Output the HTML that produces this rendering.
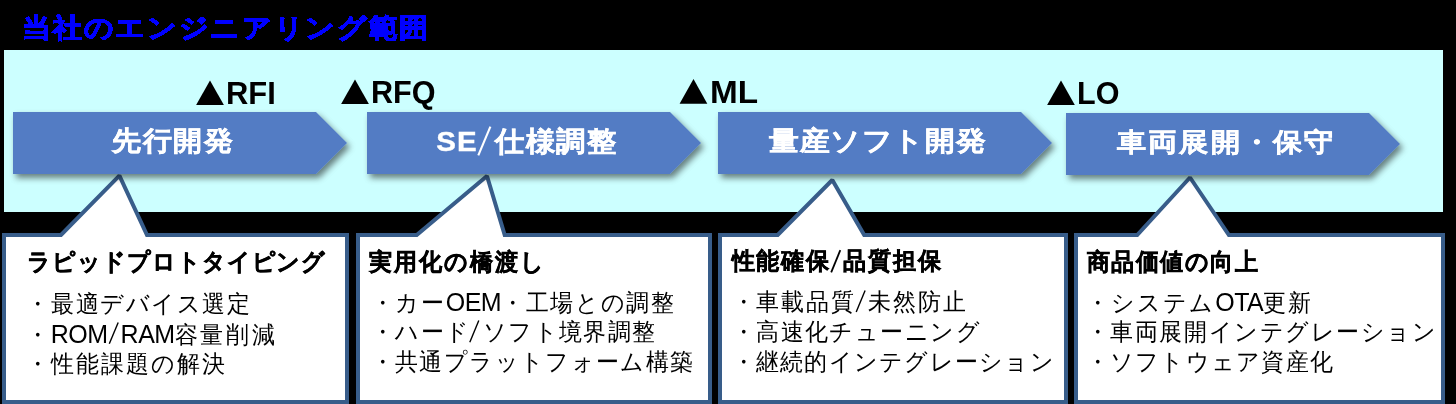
<!DOCTYPE html>
<html lang="ja">
<head>
<meta charset="utf-8">
<style>
html,body{margin:0;padding:0;}
body{width:1456px;height:404px;background:#000;position:relative;overflow:hidden;font-family:"Liberation Sans",sans-serif;}
.abs{position:absolute;white-space:nowrap;}
body>svg{position:absolute;left:0;top:0;}
.title{font-weight:bold;color:#0000ff;transform-origin:0 0;filter:url(#alias);}
.ms{font-weight:bold;color:#000;line-height:34px;transform-origin:0 0;}
.lbl{font-weight:bold;color:#fff;line-height:36px;transform-origin:0 0;}
.hd{font-weight:bold;color:#000;line-height:30px;transform-origin:0 0;}
.ln{color:#000;line-height:30px;transform-origin:0 0;}
.lt{font-size:1.087em;letter-spacing:-0.5px;}
.sp{display:inline-block;height:1px;}
</style>
</head>
<body>
<div class="abs title" style="left:22.40px;top:10.70px;font-size:28.50px;letter-spacing:1.67px;transform:scale(1.0000,0.9317);-webkit-text-stroke:1.30px #0000ff;">当社のエンジニアリング範囲</div>
<svg width="1456" height="404" viewBox="0 0 1456 404">
  <defs>
    <filter id="sh" x="-5%" y="-20%" width="115%" height="160%">
      <feGaussianBlur in="SourceAlpha" stdDeviation="3"/>
      <feOffset dx="3" dy="4" result="b"/>
      <feFlood flood-color="#000" flood-opacity="0.5"/>
      <feComposite in2="b" operator="in"/>
      <feMerge><feMergeNode/><feMergeNode in="SourceGraphic"/></feMerge>
    </filter>
    <filter id="alias" x="0" y="0" width="100%" height="100%">
      <feComponentTransfer><feFuncA type="discrete" tableValues="0 1"/></feComponentTransfer>
    </filter>
  </defs>
  <rect x="4" y="50" width="1439" height="162" fill="#ccffff"/>
  <!-- callouts -->
  <g fill="#fff" stroke="#385d8a" stroke-width="4" stroke-linejoin="miter" stroke-miterlimit="1.5">
    <path d="M4 235 L61 235 L119.4 175.6 L147 235 L347 235 L347 402 L4 402 Z"/>
    <path d="M358 235 L416.7 235 L487 176 L504.7 235 L710 235 L710 402 L358 402 Z"/>
    <path d="M720 235 L777.7 235 L832.3 180 L864.2 235 L1066 235 L1066 402 L720 402 Z"/>
    <path d="M1076 235 L1137.2 235 L1190 177.5 L1228.9 235 L1443 235 L1443 402 L1076 402 Z"/>
  </g>
  <!-- arrows -->
  <g fill="#537bc4" filter="url(#sh)">
    <polygon points="13,112 316,112 347,143 316,174 13,174"/>
    <polygon points="367,112 670,112 701,143 670,174 367,174"/>
    <polygon points="718,112 1021,112 1052,143 1021,174 718,174"/>
    <polygon points="1066,113 1369,113 1400,144 1369,175 1066,175"/>
  </g>
  <g fill="#000">
    <polygon points="196.1,104.9 210,80.5 223.9,104.9"/>
    <polygon points="341.1,104 355,79.5 368.9,104"/>
    <polygon points="679.6,103.8 693.5,79 707.3,103.8"/>
    <polygon points="1047.1,104.9 1061,80.5 1074.8,104.9"/>
  </g>
  <line x1="478.3" y1="155.3" x2="490.4" y2="126.7" stroke="#fff" stroke-width="2.1"/>
  <g stroke="#000" fill="none">
    <line x1="831.2" y1="272.3" x2="840.3" y2="250.2" stroke-width="1.8"/>
    <line x1="109.3" y1="343.8" x2="118.2" y2="322.6" stroke-width="1.4"/>
    <line x1="469.8" y1="342.3" x2="478.8" y2="320.5" stroke-width="1.4"/>
    <line x1="856.2" y1="312" x2="865.1" y2="290.5" stroke-width="1.4"/>
  </g>
</svg>
<div class="abs ms" style="left:225.70px;top:76.20px;font-size:31.50px;transform:scale(0.9808,1.0000);">RFI</div>
<div class="abs ms" style="left:370.70px;top:75.20px;font-size:31.50px;transform:scale(0.9706,1.0000);">RFQ</div>
<div class="abs ms" style="left:710.00px;top:74.80px;font-size:31.50px;transform:scale(1.0581,1.0000);">ML</div>
<div class="abs ms" style="left:1077.10px;top:76.00px;font-size:31.50px;transform:scale(0.9684,1.0000);">LO</div>
<div class="abs lbl" style="left:112.30px;top:124.10px;font-size:29.50px;letter-spacing:0.53px;transform:scale(1.0000,0.9312);-webkit-text-stroke:0.40px #fff;">先行開発</div>
<div class="abs lbl" style="left:436.30px;top:123.60px;font-size:29.50px;letter-spacing:0.92px;transform:scale(1.0000,0.9544);-webkit-text-stroke:0.40px #fff;"><span style="letter-spacing:1px">SE</span><span style="display:inline-block;width:17px"></span>仕様調整</div>
<div class="abs lbl" style="left:769.10px;top:125.45px;font-size:29.50px;letter-spacing:0.58px;transform:scale(1.0000,0.9048);-webkit-text-stroke:0.40px #fff;">量産ソフト開発</div>
<div class="abs lbl" style="left:1117.00px;top:126.25px;font-size:29.50px;letter-spacing:1.17px;transform:scale(1.0000,0.8930);-webkit-text-stroke:0.40px #fff;">車両展開・保守</div>
<div class="abs hd" style="left:26.60px;top:245.80px;font-size:23.00px;letter-spacing:0.99px;transform:scale(1.0000,1.0400);-webkit-text-stroke:0.45px #000;">ラピッドプロトタイピング</div>
<div class="abs hd" style="left:369.10px;top:246.45px;font-size:23.00px;letter-spacing:1.98px;transform:scale(1.0000,1.0400);-webkit-text-stroke:0.45px #000;">実用化の橋渡し</div>
<div class="abs hd" style="left:731.50px;top:244.95px;font-size:23.00px;letter-spacing:1.98px;transform:scale(1.0000,1.0400);-webkit-text-stroke:0.45px #000;">性能確保<span class="sp" style="width:12px"></span>品質担保</div>
<div class="abs hd" style="left:1086.50px;top:246.10px;font-size:23.00px;letter-spacing:1.52px;transform:scale(1.0000,1.0400);-webkit-text-stroke:0.45px #000;">商品価値の向上</div>
<div class="abs ln" style="left:26.40px;top:288.00px;font-size:23.00px;letter-spacing:1.56px;transform:scale(1.0000,1.0450);">・最適デバイス選定</div>
<div class="abs ln" style="left:26.40px;top:318.00px;font-size:23.00px;letter-spacing:2.85px;transform:scale(1.0000,1.0450);">・<span class="lt" style="margin-left:-1.5px">ROM</span><span class="sp" style="width:13px"></span><span class="lt">RAM</span>容量削減</div>
<div class="abs ln" style="left:26.40px;top:348.00px;font-size:23.00px;letter-spacing:1.99px;transform:scale(1.0000,1.0450);">・性能課題の解決</div>
<div class="abs ln" style="left:370.80px;top:286.00px;font-size:23.00px;letter-spacing:1.63px;transform:scale(1.0000,1.0450);">・カー<span class="lt">OEM</span>・工場との調整</div>
<div class="abs ln" style="left:370.80px;top:316.00px;font-size:23.00px;letter-spacing:1.46px;transform:scale(1.0000,1.0450);">・ハード<span class="sp" style="width:12px"></span>ソフト境界調整</div>
<div class="abs ln" style="left:370.80px;top:346.00px;font-size:23.00px;letter-spacing:1.35px;transform:scale(1.0000,1.0450);">・共通プラットフォーム構築</div>
<div class="abs ln" style="left:731.60px;top:286.00px;font-size:23.00px;letter-spacing:1.90px;transform:scale(1.0000,1.0450);">・車載品質<span class="sp" style="width:12px"></span>未然防止</div>
<div class="abs ln" style="left:731.60px;top:316.00px;font-size:23.00px;letter-spacing:1.47px;transform:scale(1.0000,1.0450);">・高速化チューニング</div>
<div class="abs ln" style="left:731.60px;top:346.00px;font-size:23.00px;letter-spacing:1.26px;transform:scale(1.0000,1.0450);">・継続的インテグレーション</div>
<div class="abs ln" style="left:1085.80px;top:286.00px;font-size:23.00px;letter-spacing:2.09px;transform:scale(1.0000,1.0450);">・システム<span class="lt">OTA</span>更新</div>
<div class="abs ln" style="left:1085.80px;top:316.00px;font-size:23.00px;letter-spacing:1.55px;transform:scale(1.0000,1.0450);">・車両展開インテグレーション</div>
<div class="abs ln" style="left:1085.80px;top:346.00px;font-size:23.00px;letter-spacing:1.23px;transform:scale(1.0000,1.0450);">・ソフトウェア資産化</div>
</body>
</html>
